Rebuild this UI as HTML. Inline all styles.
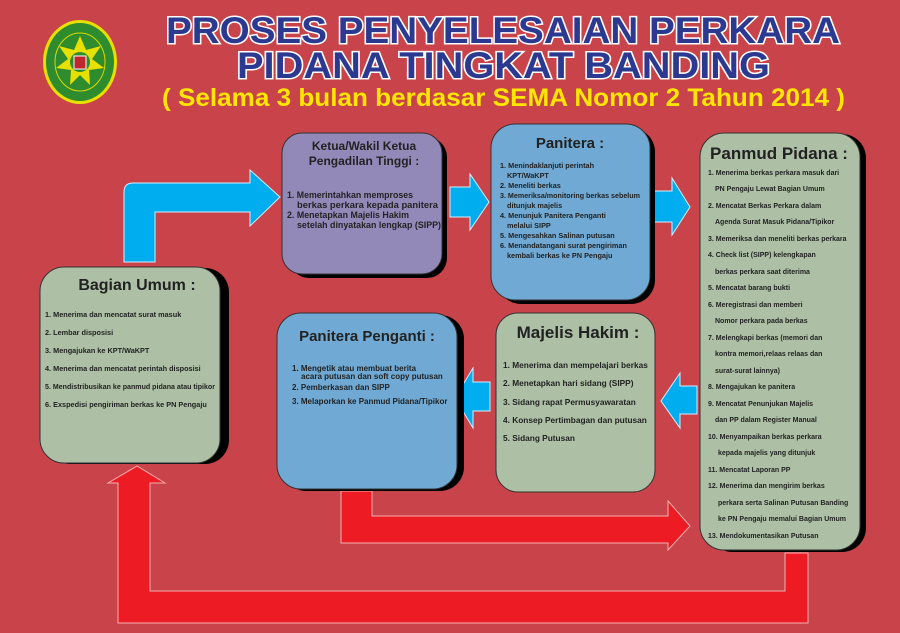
<!DOCTYPE html>
<html><head><meta charset="utf-8"><style>
html,body{margin:0;padding:0;background:#c9434a;}
svg{display:block;font-family:"Liberation Sans",sans-serif;font-weight:bold;}
</style></head><body>
<svg width="900" height="633" viewBox="0 0 900 633" xmlns="http://www.w3.org/2000/svg">
<rect width="900" height="633" fill="#c9434a"/>
<!-- logo -->
<ellipse cx="80" cy="62" rx="37" ry="42" fill="#e8e000"/>
<ellipse cx="80" cy="62" rx="34" ry="39" fill="#2e8b2e"/>
<ellipse cx="80" cy="62" rx="25" ry="29" fill="none" stroke="#d8d800" stroke-width="1"/>
<polygon points="80,36 86,50 101,46 92,59 104,68 89,70 90,85 80,75 70,85 71,70 56,68 68,59 59,46 74,50" fill="#e8e000"/>
<circle cx="80" cy="62" r="10" fill="#2e8b2e"/>
<rect x="74" y="56" width="12" height="13" fill="#c0272d" stroke="#fff" stroke-width="1"/>
<!-- title -->
<g fill="#2b3990" stroke="#fff" stroke-width="3" paint-order="stroke" font-size="37">
<text x="166" y="43" textLength="674" lengthAdjust="spacingAndGlyphs">PROSES PENYELESAIAN PERKARA</text>
<text x="237" y="78" textLength="533" lengthAdjust="spacingAndGlyphs">PIDANA TINGKAT BANDING</text>
</g>
<text x="162" y="106" font-size="25" fill="#ffe600" textLength="683" lengthAdjust="spacingAndGlyphs">( Selama 3 bulan berdasar SEMA Nomor 2 Tahun 2014 )</text>

<!-- blue arrows -->
<g fill="#00aeef" stroke="#cfefff" stroke-width="1">
<path d="M124,262 V192 Q124,183 133,183 H250 V170 L280,197 L250,226 V212 H155 V262 Z"/>
<path d="M450,187 H470 V174 L489,202 L470,230 V217 H450 Z"/>
<path d="M652,191 H672 V178 L690,207 L672,235 V222 H652 Z"/>
<path d="M490,382 H473 V368 L455,398 L473,428 V411 H490 Z"/>
<path d="M697,386 H680 V373 L661,401 L680,428 V414 H697 Z"/>
</g>
<!-- red arrows -->
<g fill="#ed1c24" stroke="#f4b0b0" stroke-width="1">
<path d="M341,491 H372 V516 H668 V501 L690,526 L668,550 V543 H341 Z"/>
<path d="M785,553 H808 V623 H118 V483 H108 L137,466 L165,483 H150 V591 H785 Z"/>
</g>

<!-- boxes with shadows -->
<g stroke="#333" stroke-width="1">
<rect x="289" y="137" width="158" height="141" rx="20" fill="#000" stroke="none"/>
<rect x="282" y="133" width="160" height="141" rx="20" fill="#9389b8"/>
<rect x="497" y="128" width="158" height="176" rx="24" fill="#000" stroke="none"/>
<rect x="491" y="124" width="159" height="176" rx="24" fill="#70aad4"/>
<rect x="708" y="134" width="158" height="418" rx="24" fill="#000" stroke="none"/>
<rect x="700" y="133" width="160" height="417" rx="24" fill="#adc0a6"/>
<rect x="46" y="268" width="183" height="196" rx="24" fill="#000" stroke="none"/>
<rect x="40" y="267" width="180" height="196" rx="24" fill="#adc0a6"/>
<rect x="282" y="315" width="182" height="176" rx="24" fill="#000" stroke="none"/>
<rect x="277" y="313" width="180" height="176" rx="24" fill="#70aad4"/>
<rect x="496" y="313" width="159" height="179" rx="22" fill="#adc0a6"/>
</g>

<g fill="#222">
<!-- Ketua -->
<text x="364" y="150" font-size="12" text-anchor="middle">Ketua/Wakil Ketua</text>
<text x="364" y="165" font-size="12" text-anchor="middle">Pengadilan Tinggi :</text>
<g font-size="9.5">
<text x="287" y="198" textLength="126" lengthAdjust="spacingAndGlyphs">1. Memerintahkan memproses</text>
<text x="297" y="208" textLength="141" lengthAdjust="spacingAndGlyphs">berkas perkara kepada panitera</text>
<text x="287" y="218" textLength="122" lengthAdjust="spacingAndGlyphs">2. Menetapkan Majelis Hakim</text>
<text x="297" y="228" textLength="144" lengthAdjust="spacingAndGlyphs">setelah dinyatakan lengkap (SIPP)</text>
</g>
<!-- Panitera -->
<text x="570" y="148" font-size="15" text-anchor="middle">Panitera :</text>
<g font-size="7.3">
<text x="500" y="168">1. Menindaklanjuti perintah</text>
<text x="507" y="178">KPT/WaKPT</text>
<text x="500" y="188">2. Meneliti berkas</text>
<text x="500" y="198" textLength="140" lengthAdjust="spacingAndGlyphs">3. Memeriksa/monitoring berkas sebelum</text>
<text x="507" y="208">ditunjuk majelis</text>
<text x="500" y="218">4. Menunjuk Panitera Penganti</text>
<text x="507" y="228">melalui SIPP</text>
<text x="500" y="238">5. Mengesahkan Salinan putusan</text>
<text x="500" y="248">6. Menandatangani surat pengiriman</text>
<text x="507" y="258">kembali berkas ke PN Pengaju</text>
</g>
<!-- Panmud -->
<text x="779" y="159" font-size="17" text-anchor="middle">Panmud Pidana :</text>
<g font-size="7">
<text x="708" y="175">1. Menerima berkas perkara masuk dari</text>
<text x="715" y="191">PN Pengaju Lewat Bagian Umum</text>
<text x="708" y="208">2. Mencatat Berkas Perkara dalam</text>
<text x="715" y="224">Agenda Surat Masuk Pidana/Tipikor</text>
<text x="708" y="241">3. Memeriksa dan meneliti berkas perkara</text>
<text x="708" y="257">4. Check list (SIPP) kelengkapan</text>
<text x="715" y="274">berkas perkara saat diterima</text>
<text x="708" y="290">5. Mencatat barang bukti</text>
<text x="708" y="307">6. Meregistrasi dan memberi</text>
<text x="715" y="323">Nomor perkara pada berkas</text>
<text x="708" y="340">7. Melengkapi berkas (memori dan</text>
<text x="715" y="356">kontra memori,relaas relaas dan</text>
<text x="715" y="373">surat-surat lainnya)</text>
<text x="708" y="389">8. Mengajukan ke panitera</text>
<text x="708" y="406">9. Mencatat Penunjukan Majelis</text>
<text x="715" y="422">dan PP dalam Register Manual</text>
<text x="708" y="439">10. Menyampaikan berkas perkara</text>
<text x="718" y="455">kepada majelis yang ditunjuk</text>
<text x="708" y="472">11. Mencatat Laporan PP</text>
<text x="708" y="488">12. Menerima dan mengirim berkas</text>
<text x="718" y="505">perkara serta Salinan Putusan Banding</text>
<text x="718" y="521">ke PN Pengaju memalui Bagian Umum</text>
<text x="708" y="538">13. Mendokumentasikan Putusan</text>
</g>
<!-- Bagian Umum -->
<text x="137" y="290" font-size="16" text-anchor="middle">Bagian Umum :</text>
<g font-size="7.3">
<text x="45" y="317">1. Menerima dan mencatat surat masuk</text>
<text x="45" y="335">2. Lembar disposisi</text>
<text x="45" y="353">3. Mengajukan ke KPT/WaKPT</text>
<text x="45" y="371">4. Menerima dan mencatat perintah disposisi</text>
<text x="45" y="389" textLength="170" lengthAdjust="spacingAndGlyphs">5. Mendistribusikan ke panmud pidana atau tipikor</text>
<text x="45" y="407">6. Exspedisi pengiriman berkas ke PN Pengaju</text>
</g>
<!-- Panitera Penganti -->
<text x="367" y="341" font-size="15" text-anchor="middle">Panitera Penganti :</text>
<g font-size="8">
<text x="292" y="371">1. Mengetik atau membuat berita</text>
<text x="301" y="379">acara putusan dan soft copy putusan</text>
<text x="292" y="390">2. Pemberkasan dan SIPP</text>
<text x="292" y="404">3. Melaporkan ke Panmud Pidana/Tipikor</text>
</g>
<!-- Majelis -->
<text x="578" y="338" font-size="17" text-anchor="middle">Majelis Hakim :</text>
<g font-size="8.3">
<text x="503" y="368">1. Menerima dan mempelajari berkas</text>
<text x="503" y="386">2. Menetapkan hari sidang (SIPP)</text>
<text x="503" y="405">3. Sidang rapat Permusyawaratan</text>
<text x="503" y="423">4. Konsep Pertimbagan dan putusan</text>
<text x="503" y="441">5. Sidang Putusan</text>
</g>
</g>
</svg>
</body></html>
